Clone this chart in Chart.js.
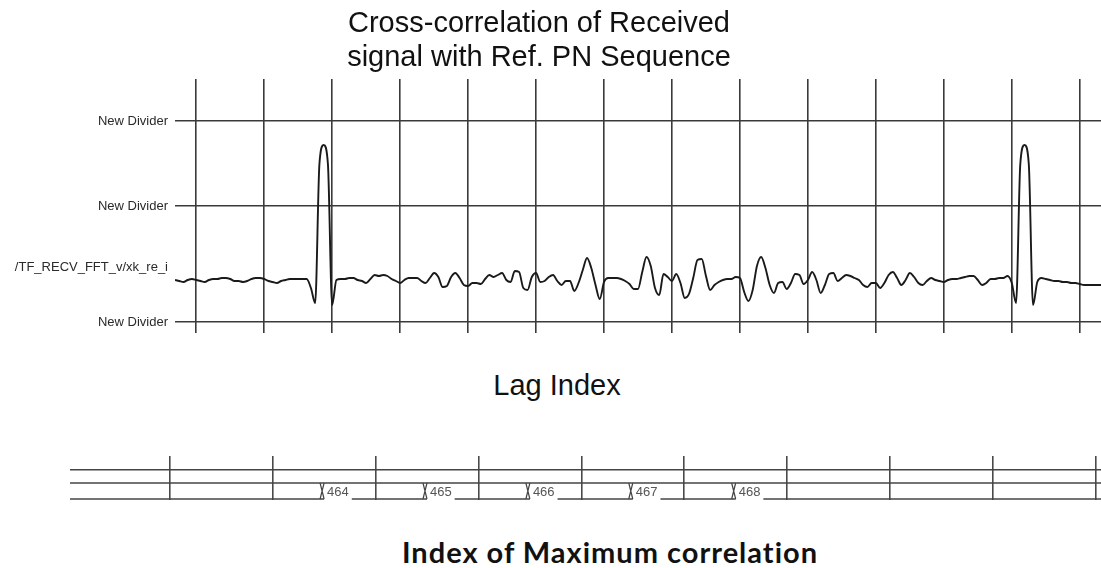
<!DOCTYPE html>
<html>
<head>
<meta charset="utf-8">
<script src="https://cdn.jsdelivr.net/npm/chart.js@4/dist/chart.umd.min.js"></script>
<style>
  html, body { margin: 0; padding: 0; background: #fff; }
  body { width: 1101px; height: 568px; position: relative; overflow: hidden; font-family: "Liberation Sans", Arial, sans-serif; color: #111; }
  canvas { position: absolute; left: 0; }
  #wave { top: 0; }
  #bus { top: 440px; }
  .lbl { position: absolute; transform: translateX(-50%); white-space: nowrap; text-align: center; }
  #title { left: 539px; top: 5px; font-size: 29px; line-height: 34px; }
  #lag { left: 557px; top: 368px; font-size: 29px; line-height: 34px; }
  #maxidx { left: 610px; top: 535px; font-family: Lato, "Open Sans", sans-serif; font-weight: bold; font-size: 29px; letter-spacing: 1px; line-height: 34px; }
</style>
</head>
<body>
<canvas id="wave" width="1101" height="343"></canvas>
<canvas id="bus" width="1101" height="80"></canvas>
<div class="lbl" id="title">Cross-correlation of Received<br>signal with Ref. PN Sequence</div>
<div class="lbl" id="lag">Lag Index</div>
<div class="lbl" id="maxidx">Index of Maximum correlation</div>
<script>
// Waveform view: cross-correlation output xk_re_i against lag, plus the
// index-of-maximum bus underneath (ModelSim style).

// ── Data ──────────────────────────────────────────────────────────────────────
const LAG_START = 11;
const LAG_END   = 229;

// one value per lag, LAG_START..LAG_END
const xcorr = [
   0, -1, -2,  0,  1,  0, -1, -2,  0,  1,            // 11-20
   1,  2,  2,  1, -1, -1, -2, -1,  1,  2,            // 21-30
   2,  1, -1, -2, -3, -1,  0,  1,  1,  1,            // 31-40
   1,  1, -8,-23,116,135,116,-25,  0,  1,            // 41-50
   1,  2,  2,  0, -1, -3,  1,  5,  4,  5,            // 51-60
   4,  1, -1, -3,  0,  2,  2,  2, -1, -3,            // 61-70
   2,  7,  3, -7, -6,  3,  7,  2, -5, -6,            // 71-80
  -3, -3, -4,  1,  5,  3,  5,  7,  0, -2,            // 81-90
   9,  8, -8,-10,  3,  7, -2, -1,  3,  5,            // 91-100
  -1, -5, -1, -1,-11, -3, 10, 22, 12, -5,            // 101-110
 -19, -2,  2,  2,  2,  1, -1, -4, -9, -9,            // 111-120
   8, 23, 14, -8,-15,  6,  3, -1,  6, -3,            // 121-130
 -18,-14,  2, 20, 21,  4,-10, -5, -2,  0,            // 131-140
   1,  1,  3,  2,-12,-21,-10, 14, 23, 12,            // 141-150
  -5,-13, -3, -2, -9, -3,  6,  5, -4,  0,            // 151-160
   8,  0,-13, -5,  6,  7, -1,  2,  5,  4,            // 161-170
   2,  0, -5, -7, -3, -3, -8, -3,  5,  8,            // 171-180
   2, -5,  0,  7,  3, -3, -5, -1,  2,  0,            // 181-190
  -1, -2,  0,  1,  1,  2,  3,  4,  4,  0,            // 191-200
  -5, -3,  1,  1,  2,  2,  4, -3,-23,116,            // 201-210
 135,116,-25, -2,  2,  1,  0, -1, -1, -2,            // 211-220
  -2, -3, -3, -4, -5, -5, -5, -5, -5                 // 221-229
];

const lagGrid   = [16, 32, 48, 64, 80, 96, 112, 128, 144, 160, 176, 192, 208, 224];
const rowTicks  = [-42, 13, 74, 159];
const rowLabels = ['New Divider', '/TF_RECV_FFT_v/xk_re_i', 'New Divider', 'New Divider'];
const rowIsDivider = [true, false, true, true];

// bus: index of maximum correlation
const BUS_START = 3;
const BUS_END   = 1005;
const busGrid   = [100, 200, 300, 400, 500, 600, 700, 800, 900, 1000];
const busTimes  = [248, 348, 448, 548, 648];
const busValues = ['464', '465', '466', '467', '468'];

// ── Shared style ─────────────────────────────────────────────────────────────
Chart.defaults.font.family = '"Liberation Sans", Arial, sans-serif';
const GRID = '#3a3a3a';

// ── Correlation waveform ─────────────────────────────────────────────────────
new Chart(document.getElementById('wave'), {
  type: 'line',
  data: {
    datasets: [{
      label: 'xk_re_i',
      data: xcorr.map((v, i) => ({ x: LAG_START + i, y: v })),
      borderColor: '#1a1a1a',
      borderWidth: 1.9,
      pointRadius: 0,
      cubicInterpolationMode: 'monotone',
      fill: false
    }]
  },
  options: {
    responsive: false,
    animation: false,
    layout: { padding: { top: 79, bottom: 10, left: 0, right: 0 } },
    plugins: { legend: { display: false }, tooltip: { enabled: false } },
    scales: {
      x: {
        type: 'linear',
        min: LAG_START,
        max: LAG_END,
        afterBuildTicks: s => { s.ticks = lagGrid.map(v => ({ value: v })); },
        afterFit: s => { s.height = 0; s.paddingLeft = 0; s.paddingRight = 0; },
        ticks: { display: false },
        grid: { color: GRID, lineWidth: 1.6, drawTicks: false },
        border: { display: false }
      },
      y: {
        type: 'linear',
        min: -53,
        max: 201,
        afterBuildTicks: s => { s.ticks = rowTicks.map(v => ({ value: v })); },
        // fixed gutter for the signal names; no extra padding for label overhang
        afterFit: s => { s.width = 175; s.paddingTop = 0; s.paddingBottom = 0; },
        ticks: {
          callback: (v, i) => rowLabels[i],
          color: '#2a2a2a',
          font: { size: 13 },
          padding: 7
        },
        grid: {
          color: ctx => rowIsDivider[ctx.index] ? GRID : 'transparent',
          lineWidth: 1.6,
          drawTicks: false
        },
        border: { display: false }
      }
    }
  }
});

// ── Bus row: value labels and transitions ────────────────────────────────────
const BUS_HI = 17;   // upper edge of bus trace
const BUS_LO = 1;    // lower edge of bus trace

const busLabels = {
  id: 'busLabels',
  afterDatasetsDraw(chart) {
    const { ctx, scales: { x, y } } = chart;
    const yHi = y.getPixelForValue(BUS_HI);
    const yLo = y.getPixelForValue(BUS_LO);
    ctx.save();
    ctx.font = '13px "Liberation Sans", Arial, sans-serif';
    ctx.textBaseline = 'middle';
    busTimes.forEach((t, i) => {
      const px = x.getPixelForValue(t);
      const w  = ctx.measureText(busValues[i]).width;
      // white box behind the value cuts the lower edge
      ctx.fillStyle = '#fff';
      ctx.fillRect(px + 2, yHi + 2, w + 6, yLo - yHi + 1);
      // transition cross
      ctx.strokeStyle = '#444';
      ctx.lineWidth = 1.2;
      ctx.beginPath();
      ctx.moveTo(px - 2, yHi); ctx.lineTo(px + 2, yLo);
      ctx.moveTo(px - 2, yLo); ctx.lineTo(px + 2, yHi);
      ctx.stroke();
      ctx.fillStyle = '#555';
      ctx.fillText(busValues[i], px + 5, (yHi + yLo) / 2 + 1);
    });
    ctx.restore();
  }
};

new Chart(document.getElementById('bus'), {
  type: 'line',
  data: {
    datasets: [BUS_HI, BUS_LO].map(level => ({
      data: [{ x: BUS_START, y: level }, { x: BUS_END, y: level }],
      borderColor: '#444',
      borderWidth: 1.4,
      pointRadius: 0
    }))
  },
  options: {
    responsive: false,
    animation: false,
    layout: { padding: { top: 16, bottom: 20, left: 0, right: 0 } },
    plugins: { legend: { display: false }, tooltip: { enabled: false } },
    scales: {
      x: {
        type: 'linear',
        min: BUS_START,
        max: BUS_END,
        afterBuildTicks: s => { s.ticks = busGrid.map(v => ({ value: v })); },
        afterFit: s => { s.height = 0; },
        ticks: { display: false },
        grid: { color: '#4a4a4a', lineWidth: 1.6, drawTicks: false },
        border: { display: false }
      },
      y: {
        type: 'linear',
        min: 0,
        max: 44,
        afterBuildTicks: s => { s.ticks = [{ value: 30 }]; },
        afterFit: s => { s.width = 70; },
        ticks: { display: false },
        grid: { color: '#444', lineWidth: 1.4, drawTicks: false },
        border: { display: false }
      }
    }
  },
  plugins: [busLabels]
});
</script>
</body>
</html>
